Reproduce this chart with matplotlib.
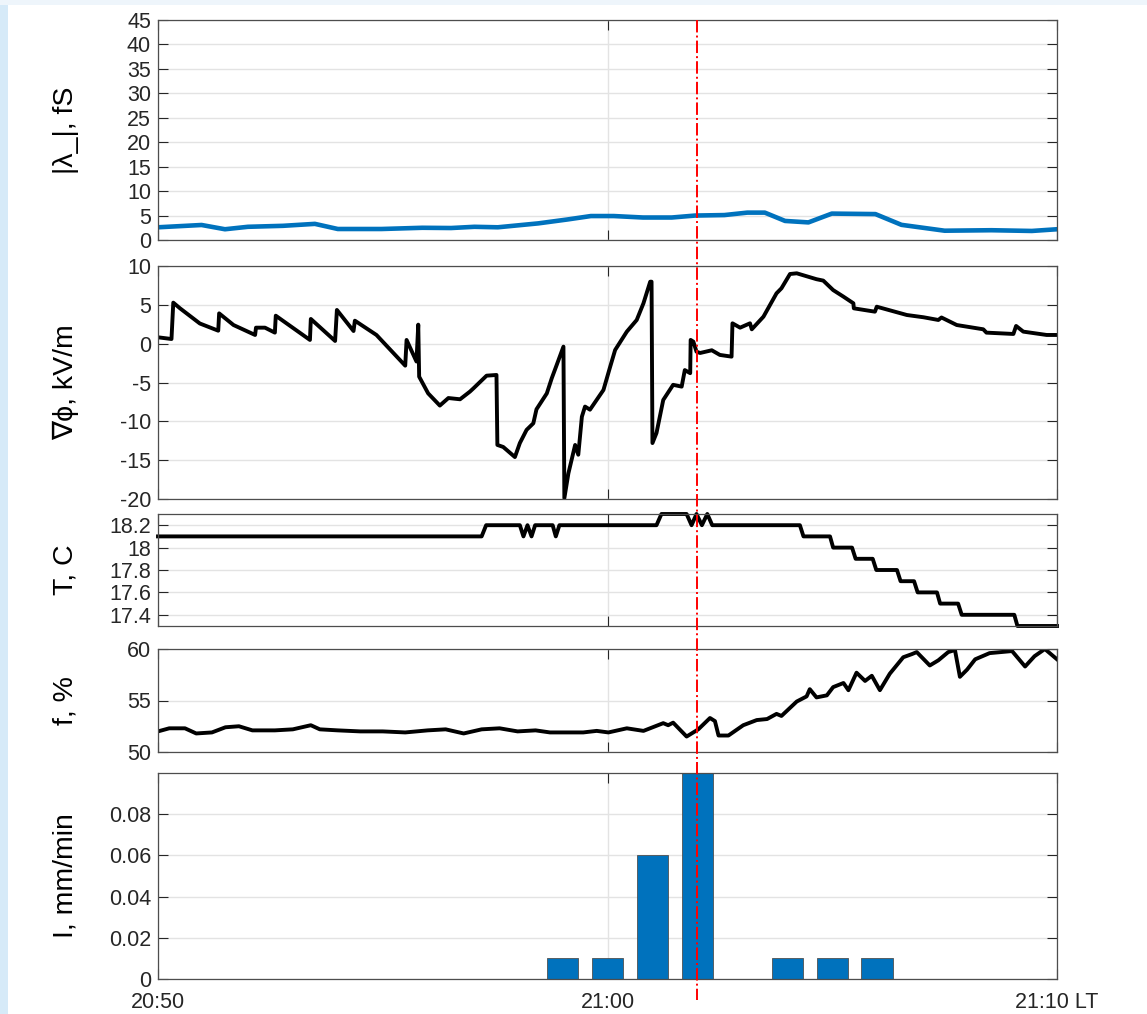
import numpy as np
import matplotlib
matplotlib.use("Agg")
import matplotlib.pyplot as plt
from matplotlib.lines import Line2D
from matplotlib.patches import Rectangle

# ---------------- data (time in minutes after 20:50) ----------------
lam_t = [0, 0.97, 1.49, 2.0, 2.78, 3.49, 4.0, 4.97, 5.88, 6.52, 7.04, 7.56, 8.46, 9.11,
         9.63, 10.14, 10.79, 11.43, 11.95, 12.6, 13.11, 13.5, 13.95, 14.47, 14.99, 15.96,
         16.54, 17.5, 18.54, 19.44, 20.0]
lam_v = [2.6, 3.07, 2.2, 2.7, 2.9, 3.3, 2.25, 2.25, 2.5, 2.45, 2.7, 2.6, 3.4, 4.2,
         4.9, 4.9, 4.6, 4.6, 5.0, 5.1, 5.6, 5.6, 3.9, 3.6, 5.4, 5.3,
         3.1, 1.9, 2.0, 1.85, 2.2]

grad_t = [0.0, 0.30, 0.34, 0.49, 0.93, 1.34, 1.36, 1.68, 2.16, 2.18, 2.38, 2.6, 2.62,
          3.38, 3.4, 3.94, 3.98, 4.35, 4.38, 4.86, 5.5, 5.53, 5.75, 5.79, 5.81, 6.01,
          6.27, 6.46, 6.72, 6.94, 7.02, 7.31, 7.53, 7.55, 7.68, 7.94, 8.05, 8.2, 8.35,
          8.42, 8.65, 8.76, 8.87, 9.02, 9.04, 9.13, 9.28, 9.35, 9.43, 9.5, 9.61, 9.91,
          10.06, 10.17, 10.43, 10.65, 10.8, 10.95, 10.98, 11.0, 11.09, 11.24, 11.46,
          11.65, 11.72, 11.84, 11.85, 11.91, 11.98, 12.06, 12.32, 12.5, 12.76, 12.78,
          12.95, 13.17, 13.21, 13.47, 13.76, 13.87, 14.06, 14.21, 14.65, 14.8, 15.02,
          15.25, 15.47, 15.48, 15.95, 15.99, 16.66, 17.03, 17.36, 17.43, 17.77, 18.36,
          18.43, 19.03, 19.09, 19.25, 19.77, 20.0]
grad_v = [0.82, 0.6, 5.28, 4.55, 2.6, 1.67, 3.9, 2.4, 1.12, 2.06, 2.06, 1.42, 3.6,
          0.48, 3.18, 0.35, 4.34, 1.63, 2.96, 1.12, -2.83, 0.48, -2.3, 2.45, -4.25, -6.4,
          -7.97, -7.0, -7.16, -6.17, -5.74, -4.12, -4.03, -13.04, -13.3, -14.6, -12.8,
          -11.1, -10.25, -8.45, -6.4, -4.45, -2.74, -0.38, -19.9, -16.7, -13.04, -14.3,
          -9.4, -8.1, -8.5, -5.96, -2.96, -0.81, 1.55, 3.05, 5.2, 7.98, 7.98, -12.8,
          -11.5, -7.25, -5.3, -5.53, -3.4, -3.8, 0.48, 0.26, -1.03, -1.2, -0.85, -1.45,
          -1.67, 2.62, 2.06, 2.62, 1.85, 3.48, 6.48, 7.13, 8.97, 9.06, 8.3, 8.12, 6.9,
          6.05, 5.2, 4.55, 4.12, 4.76, 3.69, 3.4, 3.05, 3.37, 2.4, 1.85,
          1.42, 1.25, 2.28, 1.55, 1.12, 1.12]

temp_t = [0, 7.2, 7.3, 8.05, 8.13, 8.22, 8.31, 8.39, 8.78, 8.85, 8.93, 11.09, 11.2,
          11.76, 11.87, 11.98, 12.1, 12.22, 12.33, 14.28, 14.36, 14.95, 15.02, 15.44,
          15.52, 15.9, 15.98, 16.44, 16.52, 16.82, 16.9, 17.33, 17.4, 17.8, 17.88,
          19.05, 19.12, 20.0]
temp_v = [18.1, 18.1, 18.2, 18.2, 18.1, 18.2, 18.1, 18.2, 18.2, 18.1, 18.2, 18.2, 18.3,
          18.3, 18.2, 18.3, 18.2, 18.3, 18.2, 18.2, 18.1, 18.1, 18.0, 18.0,
          17.9, 17.9, 17.8, 17.8, 17.7, 17.7, 17.6, 17.6, 17.5, 17.5, 17.4,
          17.4, 17.3, 17.3]

hum_t = [0, 0.25, 0.6, 0.85, 1.2, 1.5, 1.8, 2.1, 2.6, 3.0, 3.4, 3.6, 4.0, 4.5, 5.0,
         5.5, 6.0, 6.4, 6.8, 7.2, 7.6, 8.0, 8.4, 8.72, 9.1, 9.46, 9.76, 10.02, 10.43,
         10.8, 11.24, 11.35, 11.46, 11.76, 12.02, 12.28, 12.39, 12.47, 12.69, 13.02,
         13.32, 13.55, 13.76, 13.87, 14.21, 14.43, 14.5, 14.65, 14.88, 15.02, 15.25,
         15.36, 15.54, 15.73, 15.88, 16.06, 16.28, 16.58, 16.77, 16.88, 17.17, 17.36,
         17.58, 17.73, 17.84, 18.0, 18.18, 18.5, 19.0, 19.29, 19.5, 19.73, 20.0]
hum_v = [52.0, 52.3, 52.3, 51.8, 51.9, 52.4, 52.5, 52.1, 52.1, 52.2, 52.6, 52.2, 52.1,
         52.0, 52.0, 51.9, 52.1, 52.2, 51.8, 52.2, 52.3, 52.0, 52.1, 51.9, 51.9, 51.9,
         52.05, 51.9, 52.3, 52.05, 52.8, 52.6, 52.85, 51.5, 52.2, 53.3, 53.0, 51.6, 51.6,
         52.6, 53.1, 53.2, 53.7, 53.5, 54.9, 55.4, 56.1, 55.3, 55.5, 56.3, 56.7, 56.0,
         57.7, 56.9, 57.4, 56.0, 57.6, 59.2, 59.5, 59.7, 58.4, 58.9, 59.7, 59.9, 57.3,
         58.0, 59.0, 59.6, 59.8, 58.3, 59.3, 60.0, 59.0]

rain_t = [9, 10, 11, 12, 14, 15, 16]
rain_v = [0.01, 0.01, 0.06, 0.10, 0.01, 0.01, 0.01]

event_t = 12.0
xtick_pos = [0, 10, 20]
xtick_lab = ["20:50", "21:00", "21:10 LT"]

# ---------------- styling ----------------
plt.rcParams['font.family'] = ['Liberation Sans', 'DejaVu Sans']
plt.rcParams['axes.unicode_minus'] = False
W, H = 1147, 1014
fig = plt.figure(figsize=(W / 100, H / 100), dpi=100)
fig.patch.set_facecolor('white')

# light blue page edges
fig.add_artist(Rectangle((0, 0), 8 / W, 1, transform=fig.transFigure,
                         facecolor='#d6eaf8', edgecolor='none', zorder=-5))
fig.add_artist(Rectangle((0, 1 - 5 / H), 1, 5 / H, transform=fig.transFigure,
                         facecolor='#eef5fb', edgecolor='none', zorder=-5))

left, right = 158 / W, 1057 / W
rows = [(20, 240), (266, 499), (514, 626), (649, 752), (773, 979)]
axes = []
for top, bot in rows:
    ax = fig.add_axes([left, 1 - bot / H, right - left, (bot - top) / H])
    axes.append(ax)

grid_c = '#e3e3e3'
spine_c = '#4d4d4d'
tick_fs = 15.5
lab_fs = 20.5
for ax in axes:
    ax.set_xlim(0, 20)
    ax.set_xticks(xtick_pos)
    ax.tick_params(direction='in', length=7, width=0.8, colors='#262626',
                   labelsize=tick_fs, top=True, right=True, pad=5)
    ax.tick_params(axis='x', pad=9)
    ax.grid(True, color=grid_c, linewidth=1.0)
    ax.set_axisbelow(True)
    for s in ax.spines.values():
        s.set_color(spine_c)
        s.set_linewidth(0.9)
    if ax is not axes[-1]:
        ax.set_xticklabels([])

# panel 1
a = axes[0]
a.plot(lam_t, lam_v, color='#0072BD', lw=3.3, solid_joinstyle='round')
a.set_ylim(0, 45)
a.set_yticks(np.arange(0, 46, 5))
a.set_ylabel('|λ_|, fS', fontsize=lab_fs)

# panel 2
a = axes[1]
a.plot(grad_t, grad_v, color='black', lw=2.8)
a.set_ylim(-20, 10)
a.set_yticks(np.arange(-20, 11, 5))
a.set_ylabel('∇ϕ, kV/m', fontsize=lab_fs)

# panel 3
a = axes[2]
a.plot(temp_t, temp_v, color='black', lw=2.8, clip_on=False)
a.set_ylim(17.3, 18.3)
a.set_yticks([17.4, 17.6, 17.8, 18.0, 18.2])
a.set_yticklabels(['17.4', '17.6', '17.8', '18', '18.2'])
a.set_ylabel('T, C', fontsize=lab_fs)

# panel 4
a = axes[3]
a.plot(hum_t, hum_v, color='black', lw=2.8)
a.set_ylim(50, 60)
a.set_yticks([50, 55, 60])
a.set_ylabel('f, %', fontsize=lab_fs)

# panel 5
a = axes[4]
a.bar(rain_t, rain_v, width=0.7, color='#0072BD', edgecolor='#505050', linewidth=0.6)
a.set_ylim(0, 0.1)
a.set_yticks([0, 0.02, 0.04, 0.06, 0.08])
a.set_yticklabels(['0', '0.02', '0.04', '0.06', '0.08'])
a.set_ylabel('I, mm/min', fontsize=lab_fs)
a.set_xticklabels(xtick_lab)

for ax in axes:
    ax.yaxis.set_label_coords(-0.088, 0.5)

# event marker across all panels
fig.canvas.draw()
xd = axes[0].transData.transform((event_t, 0))[0]
xf = fig.transFigure.inverted().transform((xd, 0))[0]
fig.add_artist(Line2D([xf, xf], [1 - 20 / H, 1 - 1000 / H], transform=fig.transFigure,
                      color='red', lw=1.4, linestyle='-.', zorder=10))

fig.savefig('out.png', dpi=100)
